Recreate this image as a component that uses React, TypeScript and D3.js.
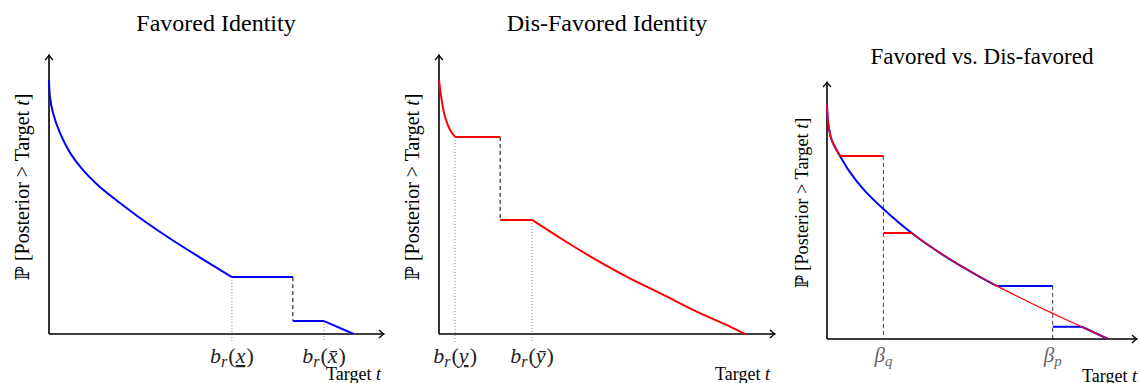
import React from "react";
import * as d3 from "d3";

// ---------- Data (t in abstract units 0..10, p in 0..1) ----------
// Panel 1: Favored identity (blue)
const favCurveT = [0, 0.03, 0.12, 0.33, 0.63, 1.01, 1.52, 2.12, 2.81, 3.61, 4.51, 5.46];
const favCurveP = [1, 0.933, 0.87, 0.791, 0.713, 0.646, 0.579, 0.516, 0.448, 0.376, 0.301, 0.224];
const favFlatHigh = { t0: 5.46, t1: 7.28, p: 0.224 };
const favFlatLow = { t0: 7.28, t1: 8.21, p: 0.051 };
const favTailT = [8.21, 9.1];
const favTailP = [0.051, 0];
const favTicks = [5.46, 8.21];

// Panel 2: Dis-favored identity (red)
const disHeadT = [0, 0.08, 0.18, 0.33, 0.48];
const disHeadP = [1, 0.921, 0.854, 0.803, 0.776];
const disFlatHigh = { t0: 0.48, t1: 1.82, p: 0.776 };
const disFlatLow = { t0: 1.82, t1: 2.77, p: 0.449 };
const disTailT = [2.77, 3.7, 4.69, 5.68, 6.68, 7.67, 8.66, 9.11];
const disTailP = [0.449, 0.37, 0.291, 0.219, 0.154, 0.088, 0.029, 0];
const disTicks = [0.48, 2.77];

// Panel 3: Favored vs. Dis-favored
const cmpCurveT = [0, 0.04, 0.15, 0.42, 0.74, 1.17, 1.82, 2.73, 3.75, 4.83, 5.47];
const cmpCurveP = [1, 0.918, 0.847, 0.779, 0.71, 0.638, 0.553, 0.451, 0.357, 0.272, 0.226];
const cmpRedTailT = [5.47, 6.44, 7.28, 8.22, 9.07];
const cmpRedTailP = [0.226, 0.162, 0.109, 0.052, 0];
const cmpRedFlatHigh = { t0: 0.42, t1: 1.82, p: 0.779 };
const cmpRedFlatLow = { t0: 1.82, t1: 2.73, p: 0.451 };
const cmpBlueFlatHigh = { t0: 5.47, t1: 7.28, p: 0.226 };
const cmpBlueFlatLow = { t0: 7.28, t1: 8.22, p: 0.052 };
const cmpBlueTailT = [8.22, 9.07];
const cmpBlueTailP = [0.052, 0];
const cmpTicks = [1.82, 7.28];

const titles = ["Favored Identity", "Dis-Favored Identity", "Favored vs. Dis-favored"];

const BLUE = "#0000ff";
const RED = "#ff0000";
const FONT = "Liberation Serif, Times New Roman, Times, DejaVu Serif, serif";

type Pt = [number, number];
const zip = (a: number[], b: number[]): Pt[] => a.map((v, i) => [v, b[i]]);

function Arrows({ x0, y0, xEnd, yTop }: { x0: number; y0: number; xEnd: number; yTop: number }) {
  return (
    <g stroke="#000" fill="none" strokeWidth={1.6}>
      <line x1={x0} y1={y0} x2={xEnd} y2={y0} />
      <line x1={x0} y1={y0} x2={x0} y2={yTop} />
      <path d={`M${xEnd - 5},${y0 - 4} Q${xEnd - 2},${y0 - 1} ${xEnd},${y0} Q${xEnd - 2},${y0 + 1} ${xEnd - 5},${y0 + 4}`} strokeWidth={1.3} />
      <path d={`M${x0 - 4},${yTop + 5} Q${x0 - 1},${yTop + 2} ${x0},${yTop} Q${x0 + 1},${yTop + 2} ${x0 + 4},${yTop + 5}`} strokeWidth={1.3} />
    </g>
  );
}

function YLabel({ x, y, size }: { x: number; y: number; size: number }) {
  return (
    <text transform={`translate(${x},${y}) rotate(-90)`} textAnchor="middle" style={{ fontFamily: FONT, fontSize: size }} fill="#000">
      <tspan style={{ fontFamily: "DejaVu Serif, serif", fontSize: size * 0.95 }}>ℙ</tspan>
      <tspan> [Posterior &gt; Target </tspan>
      <tspan fontStyle="italic">t</tspan>
      <tspan>]</tspan>
    </text>
  );
}

function XLabel({ x, y, size }: { x: number; y: number; size: number }) {
  return (
    <text x={x} y={y} style={{ fontFamily: FONT, fontSize: size }} fill="#000">
      Target <tspan fontStyle="italic">t</tspan>
    </text>
  );
}

function BrLabel({ x, y, v, kind }: { x: number; y: number; v: string; kind: "under" | "bar" }) {
  return (
    <text x={x} y={y} textAnchor="middle" style={{ fontFamily: FONT, fontSize: 22 }} fill="#222">
      <tspan fontStyle="italic">b</tspan>
      <tspan fontStyle="italic" style={{ fontSize: 16 }} dy={4}>r</tspan>
      <tspan dy={-4} dx={1}>(</tspan>
      {kind === "under" ? (
        <tspan fontStyle="italic" textDecoration="underline">{v}</tspan>
      ) : (
        <tspan fontStyle="italic">{v + "\u0304"}</tspan>
      )}
      <tspan dx={1}>)</tspan>
    </text>
  );
}

function BetaLabel({ x, y, s }: { x: number; y: number; s: string }) {
  return (
    <text x={x} y={y} textAnchor="middle" style={{ fontFamily: FONT, fontSize: 21 }} fill="#666">
      <tspan fontStyle="italic">β</tspan>
      <tspan fontStyle="italic" style={{ fontSize: 15 }} dy={4}>{s}</tspan>
    </text>
  );
}

export default function App() {
  const x1 = d3.scaleLinear().domain([0, 10]).range([49, 384]);
  const y1 = d3.scaleLinear().domain([0, 1]).range([334, 80]);
  const x2 = d3.scaleLinear().domain([0, 10]).range([439, 775]);
  const y2 = y1;
  const x3 = d3.scaleLinear().domain([0, 10]).range([827, 1137]);
  const y3 = d3.scaleLinear().domain([0, 1]).range([339, 104]);

  const mk = (xs: d3.ScaleLinear<number, number>, ys: d3.ScaleLinear<number, number>, smooth: boolean) =>
    d3
      .line<Pt>()
      .x((d) => xs(d[0]))
      .y((d) => ys(d[1]))
      .curve(smooth ? d3.curveCatmullRom.alpha(0.5) : d3.curveLinear);

  const flat = (f: { t0: number; t1: number; p: number }): Pt[] => [
    [f.t0, f.p],
    [f.t1, f.p],
  ];

  const s1 = mk(x1, y1, true), l1 = mk(x1, y1, false);
  const s2 = mk(x2, y2, true), l2 = mk(x2, y2, false);
  const s3 = mk(x3, y3, true), l3 = mk(x3, y3, false);

  const cmpFull = zip(cmpCurveT, cmpCurveP).concat(zip(cmpRedTailT, cmpRedTailP).slice(1));
  const redTailStart = 7;

  return (
    <svg width={1140} height={383} style={{ position: "absolute", left: 0, top: 0, background: "#fff", fontFamily: FONT }}>
      <rect width={1140} height={383} fill="#fff" />

      <text x={216} y={31} textAnchor="middle" style={{ fontFamily: FONT, fontSize: 24 }}>{titles[0]}</text>
      <text x={607} y={31} textAnchor="middle" style={{ fontFamily: FONT, fontSize: 24 }}>{titles[1]}</text>
      <text x={982} y={64} textAnchor="middle" style={{ fontFamily: FONT, fontSize: 23 }}>{titles[2]}</text>

      {/* Panel 1 */}
      <g>
        {favTicks.map((t, i) => (
          <line key={i} x1={x1(t)} x2={x1(t)} y1={y1(i === 0 ? favFlatHigh.p : favFlatLow.p)} y2={y1(0) + 8} stroke="#888" strokeWidth={1} strokeDasharray="1,2" />
        ))}
        <line x1={x1(favFlatHigh.t1)} x2={x1(favFlatHigh.t1)} y1={y1(favFlatHigh.p)} y2={y1(favFlatLow.p)} stroke="#000" strokeWidth={1} strokeDasharray="4,3" />
        <Arrows x0={x1(0)} y0={y1(0)} xEnd={384} yTop={55} />
        <g fill="none" stroke={BLUE} strokeWidth={2}>
          <path d={s1(zip(favCurveT, favCurveP))!} />
          <path d={l1(flat(favFlatHigh))!} />
          <path d={l1(flat(favFlatLow))!} />
          <path d={l1(zip(favTailT, favTailP))!} />
        </g>
        <BrLabel x={x1(favTicks[0])} y={363} v="x" kind="under" />
        <BrLabel x={x1(favTicks[1])} y={363} v="x" kind="bar" />
        <YLabel x={29} y={187} size={20} />
        <XLabel x={326} y={380} size={18} />
      </g>

      {/* Panel 2 */}
      <g>
        {disTicks.map((t, i) => (
          <line key={i} x1={x2(t)} x2={x2(t)} y1={y2(i === 0 ? disFlatHigh.p : disFlatLow.p)} y2={y2(0) + 8} stroke="#888" strokeWidth={1} strokeDasharray="1,2" />
        ))}
        <line x1={x2(disFlatHigh.t1)} x2={x2(disFlatHigh.t1)} y1={y2(disFlatHigh.p)} y2={y2(disFlatLow.p)} stroke="#000" strokeWidth={1} strokeDasharray="4,3" />
        <Arrows x0={x2(0)} y0={y2(0)} xEnd={775} yTop={55} />
        <g fill="none" stroke={RED} strokeWidth={2}>
          <path d={s2(zip(disHeadT, disHeadP))!} />
          <path d={l2(flat(disFlatHigh))!} />
          <path d={l2(flat(disFlatLow))!} />
          <path d={s2(zip(disTailT, disTailP))!} />
        </g>
        <BrLabel x={x2(disTicks[0])} y={363} v="y" kind="under" />
        <BrLabel x={x2(disTicks[1])} y={363} v="y" kind="bar" />
        <YLabel x={419} y={187} size={20} />
        <XLabel x={715} y={380} size={18} />
      </g>

      {/* Panel 3 */}
      <g>
        <line x1={x3(cmpTicks[0])} x2={x3(cmpTicks[0])} y1={y3(cmpRedFlatHigh.p)} y2={y3(0)} stroke="#444" strokeWidth={1} strokeDasharray="4,3" />
        <line x1={x3(cmpTicks[1])} x2={x3(cmpTicks[1])} y1={y3(cmpBlueFlatHigh.p)} y2={y3(0)} stroke="#444" strokeWidth={1} strokeDasharray="4,3" />
        <Arrows x0={x3(0)} y0={y3(0)} xEnd={1137} yTop={82} />
        <g fill="none" stroke={BLUE} strokeWidth={2}>
          <path d={s3(zip(cmpCurveT, cmpCurveP))!} />
          <path d={l3(flat(cmpBlueFlatHigh))!} />
          <path d={l3(flat(cmpBlueFlatLow))!} />
          <path d={l3(zip(cmpBlueTailT, cmpBlueTailP))!} />
        </g>
        <g fill="none" stroke={RED}>
          <path d={s3(cmpFull.slice(0, 4))!} strokeWidth={1.8} />
          <path d={l3(flat(cmpRedFlatHigh))!} strokeWidth={2} />
          <path d={l3(flat(cmpRedFlatLow))!} strokeWidth={2} />
          <path d={s3(cmpFull.slice(redTailStart))!} strokeWidth={1.2} />
        </g>
        <BetaLabel x={x3(cmpTicks[0])} y={362} s="q" />
        <BetaLabel x={x3(cmpTicks[1])} y={362} s="p" />
        <YLabel x={808} y={203} size={18.3} />
        <XLabel x={1082} y={382} size={18} />
      </g>
    </svg>
  );
}
